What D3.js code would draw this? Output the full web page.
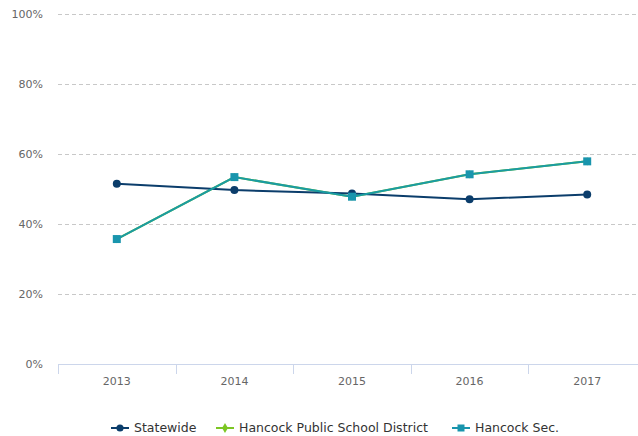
<!DOCTYPE html>
<html><head><meta charset="utf-8">
<script src="https://cdn.jsdelivr.net/npm/d3@7"></script>
<style>body{margin:0;background:#fff}svg{display:block;font-family:"DejaVu Sans",sans-serif}</style>
</head><body><svg id="c" width="638" height="436"></svg>
<script>
const years = ["2013","2014","2015","2016","2017"];
const statewide = [51.5, 49.7, 48.7, 47.1, 48.4];
const district = [35.7, 53.4, 47.8, 54.2, 57.9];
const hancockSec = [35.7, 53.4, 47.8, 54.2, 57.9];
const yTicks = [0,20,40,60,80,100];
const seriesNames = ["Statewide","Hancock Public School District","Hancock Sec."];

const svg = d3.select("#c");
const x = d3.scaleBand().domain(years).range([58, 646]);
const y = d3.scaleLinear().domain([0,100]).range([364, 14]);

// grid
svg.append("g").selectAll("line").data(yTicks.filter(d=>d>0)).join("line")
  .attr("x1",58).attr("x2",638).attr("y1",d=>y(d)+0.5).attr("y2",d=>y(d)+0.5)
  .attr("stroke","#c8c8c8").attr("stroke-dasharray","4,3");
svg.append("g").selectAll("text").data(yTicks).join("text")
  .attr("x",43).attr("y",d=>y(d)+4).attr("text-anchor","end")
  .attr("font-size",11).attr("fill","#666").text(d=>d+"%");

// x axis
svg.append("line").attr("x1",58).attr("x2",638).attr("y1",364.5).attr("y2",364.5).attr("stroke","#ccd6eb");
svg.append("g").selectAll("line").data(years).join("line")
  .attr("x1",d=>Math.round(x(d))+0.5).attr("x2",d=>Math.round(x(d))+0.5)
  .attr("y1",364).attr("y2",374).attr("stroke","#ccd6eb");
svg.append("g").selectAll("text").data(years).join("text")
  .attr("x",d=>x(d)+x.bandwidth()/2).attr("y",385).attr("text-anchor","middle")
  .attr("font-size",11).attr("fill","#666").text(d=>d);

const cx = d => x(d)+x.bandwidth()/2;
const line = d3.line().x((d,i)=>cx(years[i])).y(d=>y(d));

function drawSeries(vals, color, mcolor, shape, size){
  const g = svg.append("g");
  g.append("path").datum(vals).attr("d",line).attr("fill","none").attr("stroke",color).attr("stroke-width",2);
  g.selectAll("path.m").data(vals).join("path").attr("class","m")
    .attr("transform",(d,i)=>`translate(${cx(years[i])},${y(d)})`)
    .attr("d", d3.symbol().type(shape).size(size)())
    .attr("fill",mcolor);
}
drawSeries(district, "#7cc623", "#7cc623", d3.symbolDiamond, 20);
drawSeries(statewide, "#0b3d6b", "#0b3d6b", d3.symbolCircle, 50);
drawSeries(hancockSec, "#1a9ba3", "#1995ad", d3.symbolSquare, 64);

// legend
const legend = [
  {name:seriesNames[0], color:"#0b3d6b", shape:d3.symbolCircle, size:40, x:111},
  {name:seriesNames[1], color:"#7cc623", shape:d3.symbolDiamond, size:30, x:216},
  {name:seriesNames[2], color:"#1995ad", shape:d3.symbolSquare, size:49, x:452}
];
const lg = svg.append("g");
legend.forEach(l=>{
  lg.append("line").attr("x1",l.x).attr("x2",l.x+18).attr("y1",428).attr("y2",428).attr("stroke",l.color).attr("stroke-width",2);
  lg.append("path").attr("transform",`translate(${l.x+9},428)`).attr("d",d3.symbol().type(l.shape).size(l.size)()).attr("fill",l.color);
  lg.append("text").attr("x",l.x+23).attr("y",432).attr("font-size",12.5).attr("fill","#333").text(l.name);
});
</script></body></html>
